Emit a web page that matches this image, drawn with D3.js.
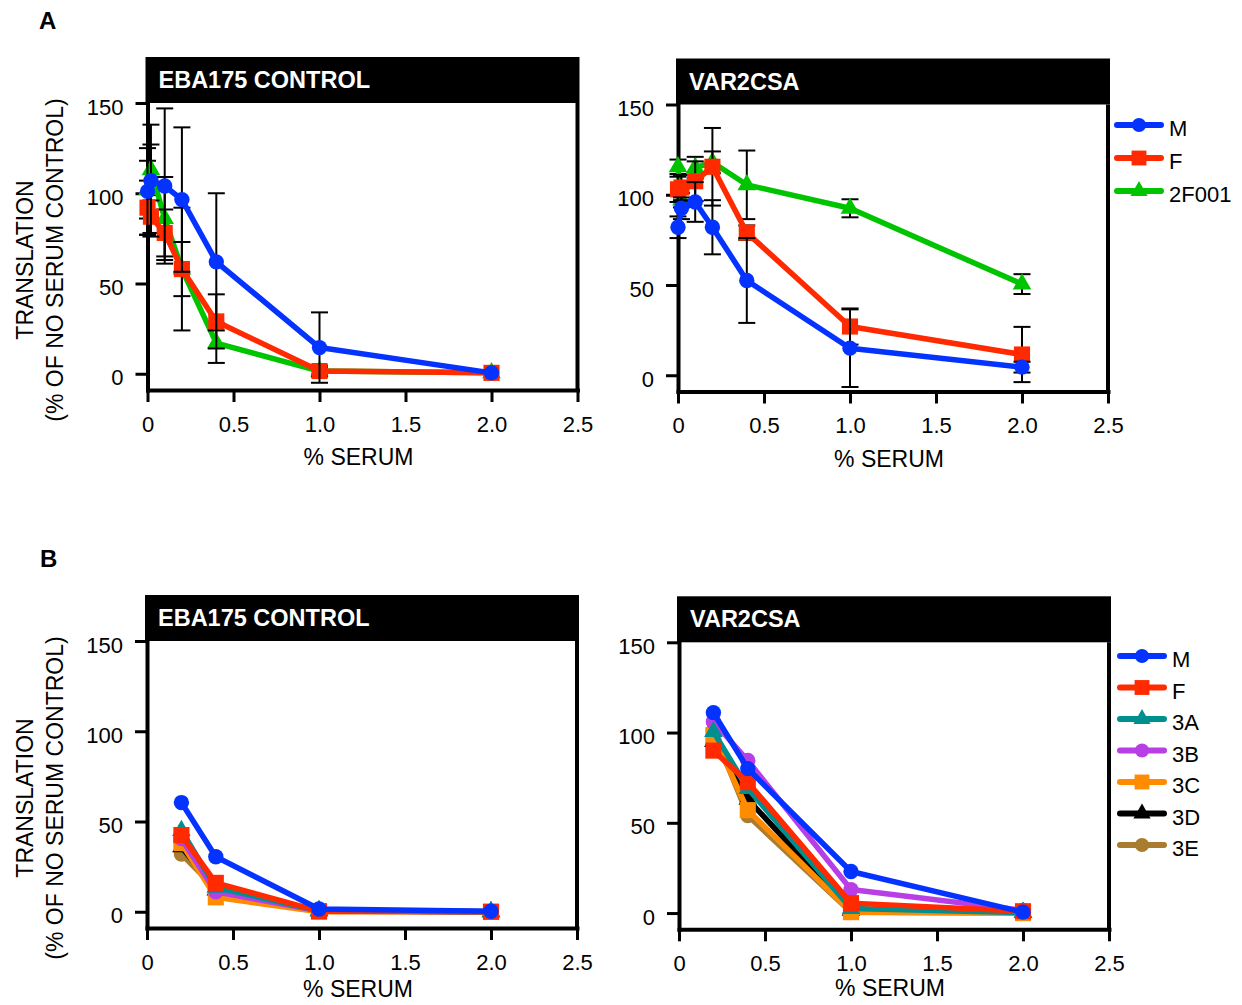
<!DOCTYPE html>
<html>
<head>
<meta charset="utf-8">
<script src="https://cdn.jsdelivr.net/npm/d3@7"></script>
<style>
  body { margin: 0; background: #fff; }
  svg { display: block; font-family: 'Liberation Sans', Arial, sans-serif; }
</style>
</head>
<body>
<svg id="chart" width="1242" height="1005"></svg>
<script>
// axis ticks
const xTickValues = [0, 0.5, 1.0, 1.5, 2.0, 2.5]
const yTickValues = [0, 50, 100, 150]

// panel A: % serum and translation (% of no serum control), mean and error
const serumA = [0, 0.02, 0.1, 0.2, 0.4, 1.0, 2.0]
const ebaM = [101, 107, 104, 96.5, 62, 14.5, 0.5]
const ebaMErr = [24, 31, 43, 40, 38, 19.5, 0]
const ebaF = [92, 87, 78, 58, 29, 1.5, 0.5]
const ebaFErr = [15, 9, 13, 15, 15, 3, 0]
const eba2F001 = [102, 113, 86, 58, 17, 1.5, 0.5]
const eba2F001Err = [16, 14, 23, 34, 11, 2, 0]

const varM = [82, 92.5, 96, 82, 52.5, 15, 4.5]
const varMErr = [6, 6, 11, 15, 23.5, 21.5, 3]
const varF = [103, 104, 107.5, 115.5, 79, 27, 11.5]
const varFErr = [7, 7, 11, 21.5, 4, 10, 15.3]
const var2F001 = [115.5, 97, 115, 118, 105.5, 92.5, 50.5]
const var2F001Err = [4, 4, 6, 6, 19, 5, 5.5]

// panel B
const serumB = [0.2, 0.4, 1.0, 2.0]
const ebaBM = [60.5, 30.5, 1.5, 0.3]
const ebaBF = [42.5, 16, 0.3, 0]
const ebaB3A = [45, 13.5, 0.5, 0]
const ebaB3B = [40.5, 11, 0.5, 0]
const ebaB3C = [38, 8, 0, 0]
const ebaB3D = [36, 12, 0.5, 0]
const ebaB3E = [32, 12.5, 0.3, 0]

const varBM = [111, 80, 23, 0.5]
const varBF = [90, 72.5, 5.5, 1]
const varB3A = [100.5, 69, 2.5, 0.3]
const varB3B = [106, 84.5, 13, 1.5]
const varB3C = [98.5, 57, 0.5, 0]
const varB3D = [95, 63, 1.5, 0.3]
const varB3E = [101, 54, 0.5, 0]

const seriesNamesA = ['M', 'F', '2F001']
const seriesNamesB = ['M', 'F', '3A', '3B', '3C', '3D', '3E']

const styles = {
  M: { color: '#0433ff', symbol: d3.symbolCircle, size: 185 },
  F: { color: '#ff2a00', symbol: d3.symbolSquare, size: 260 },
  '2F001': { color: '#00c400', symbol: d3.symbolTriangle, size: 150 },
  '3A': { color: '#008f8f', symbol: d3.symbolTriangle, size: 150 },
  '3B': { color: '#b83fe6', symbol: d3.symbolCircle, size: 185 },
  '3C': { color: '#ff8c00', symbol: d3.symbolSquare, size: 260 },
  '3D': { color: '#000000', symbol: d3.symbolTriangle, size: 150 },
  '3E': { color: '#a97c2f', symbol: d3.symbolCircle, size: 185 }
}

const toSeries = (name, xs, ys, errs) => ({
  name,
  points: xs.map((x, i) => ({ x, y: ys[i], e: errs ? errs[i] : 0 }))
})

const W = 430
const H = 287
const font = "'Liberation Sans', Arial, sans-serif"

const panels = [
  {
    title: 'EBA175 CONTROL', left: 147.5, top: 103, titleGap: 75,
    series: [
      toSeries('M', serumA, ebaM, ebaMErr),
      toSeries('F', serumA, ebaF, ebaFErr),
      toSeries('2F001', serumA, eba2F001, eba2F001Err)
    ]
  },
  {
    title: 'VAR2CSA', left: 678, top: 104.5, titleGap: 75,
    series: [
      toSeries('M', serumA, varM, varMErr),
      toSeries('F', serumA, varF, varFErr),
      toSeries('2F001', serumA, var2F001, var2F001Err)
    ],
    legend: { names: seriesNamesA, x: 1117, y: 125, step: 33 }
  },
  {
    title: 'EBA175 CONTROL', left: 147, top: 641, titleGap: 69,
    series: [
      toSeries('M', serumB, ebaBM),
      toSeries('F', serumB, ebaBF),
      toSeries('3A', serumB, ebaB3A),
      toSeries('3B', serumB, ebaB3B),
      toSeries('3C', serumB, ebaB3C),
      toSeries('3D', serumB, ebaB3D),
      toSeries('3E', serumB, ebaB3E)
    ]
  },
  {
    title: 'VAR2CSA', left: 679, top: 642.3, titleGap: 67,
    series: [
      toSeries('M', serumB, varBM),
      toSeries('F', serumB, varBF),
      toSeries('3A', serumB, varB3A),
      toSeries('3B', serumB, varB3B),
      toSeries('3C', serumB, varB3C),
      toSeries('3D', serumB, varB3D),
      toSeries('3E', serumB, varB3E)
    ],
    legend: { names: seriesNamesB, x: 1120, y: 656, step: 31.5 }
  }
]

const svg = d3.select('#chart')

svg.append('rect').attr('width', 1242).attr('height', 1005).attr('fill', '#fff')

// panel letters
svg.append('text').attr('x', 39).attr('y', 29).attr('font-size', 24).attr('font-weight', 'bold').text('A')
svg.append('text').attr('x', 40).attr('y', 567).attr('font-size', 24).attr('font-weight', 'bold').text('B')

// y axis titles (left column only)
;[panels[0], panels[2]].forEach(p => {
  const cy = p.top + 157
  svg.append('text')
    .attr('transform', `translate(33, ${cy}) rotate(-90)`)
    .attr('text-anchor', 'middle')
    .attr('font-size', 23)
    .text('TRANSLATION')
  svg.append('text')
    .attr('transform', `translate(63, ${cy}) rotate(-90)`)
    .attr('text-anchor', 'middle')
    .attr('font-size', 23)
    .text('(% OF NO SERUM CONTROL)')
})

function drawPanel (p) {
  const x = d3.scaleLinear().domain([0, 2.5]).range([0, W])
  const y = d3.scaleLinear().domain([-9, 150]).range([H, 0])
  const g = svg.append('g').attr('transform', `translate(${p.left}, ${p.top})`)

  // header bar
  g.append('rect')
    .attr('x', -2).attr('y', -46)
    .attr('width', W + 4).attr('height', 46)
    .attr('fill', '#000')
  g.append('text')
    .attr('x', 11).attr('y', -15)
    .attr('fill', '#fff')
    .attr('font-size', 23.5)
    .attr('font-weight', 'bold')
    .text(p.title)

  // right frame edge
  g.append('line')
    .attr('x1', W).attr('x2', W)
    .attr('y1', 0).attr('y2', H)
    .attr('stroke', '#000')
    .attr('stroke-width', 4)

  const yAxis = g.append('g')
    .call(d3.axisLeft(y)
      .tickValues(yTickValues)
      .tickSize(12)
      .tickSizeOuter(0)
      .tickPadding(12))
  const xAxis = g.append('g')
    .attr('transform', `translate(0, ${H})`)
    .call(d3.axisBottom(x)
      .tickValues(xTickValues)
      .tickSize(12)
      .tickSizeOuter(0)
      .tickPadding(14)
      .tickFormat(d => d === 0 ? '0' : d.toFixed(1)))

  ;[yAxis, xAxis].forEach(a => {
    a.attr('font-size', 22).attr('font-family', font)
    a.select('.domain').attr('stroke', '#000').attr('stroke-width', 4).attr('stroke-linecap', 'square')
    a.selectAll('.tick line').attr('stroke', '#000').attr('stroke-width', 3)
    a.selectAll('.tick text').attr('fill', '#000')
  })
  yAxis.selectAll('.tick text').attr('dy', '0.5em')

  g.append('text')
    .attr('x', W / 2 - 4)
    .attr('y', H + p.titleGap)
    .attr('text-anchor', 'middle')
    .attr('font-size', 23)
    .text('% SERUM')

  const line = d3.line()
    .x(d => x(d.x))
    .y(d => y(d.y))

  // last series at the bottom, M on top
  p.series.slice().reverse().forEach(s => {
    const st = styles[s.name]
    const sg = g.append('g')

    const bars = sg.selectAll('.err')
      .data(s.points.filter(d => d.e > 0))
      .enter()
      .append('g')
      .attr('class', 'err')
      .attr('stroke', '#000')
      .attr('stroke-width', 2)
    bars.append('line')
      .attr('x1', d => x(d.x)).attr('x2', d => x(d.x))
      .attr('y1', d => y(d.y + d.e)).attr('y2', d => y(d.y - d.e))
    bars.append('line')
      .attr('x1', d => x(d.x) - 8.5).attr('x2', d => x(d.x) + 8.5)
      .attr('y1', d => y(d.y + d.e)).attr('y2', d => y(d.y + d.e))
    bars.append('line')
      .attr('x1', d => x(d.x) - 8.5).attr('x2', d => x(d.x) + 8.5)
      .attr('y1', d => y(d.y - d.e)).attr('y2', d => y(d.y - d.e))

    sg.append('path')
      .attr('d', line(s.points))
      .attr('fill', 'none')
      .attr('stroke', st.color)
      .attr('stroke-width', 5.5)
      .attr('stroke-linejoin', 'round')
      .attr('stroke-linecap', 'round')

    sg.selectAll('.pt')
      .data(s.points)
      .enter()
      .append('path')
      .attr('class', 'pt')
      .attr('transform', d => `translate(${x(d.x)}, ${y(d.y)})`)
      .attr('d', d3.symbol().type(st.symbol).size(st.size))
      .attr('fill', st.color)
  })

  if (p.legend) {
    const lg = svg.append('g')
    p.legend.names.forEach((name, i) => {
      const st = styles[name]
      const ly = p.legend.y + i * p.legend.step
      lg.append('line')
        .attr('x1', p.legend.x).attr('x2', p.legend.x + 44)
        .attr('y1', ly).attr('y2', ly)
        .attr('stroke', st.color)
        .attr('stroke-width', 6)
        .attr('stroke-linecap', 'round')
      lg.append('path')
        .attr('transform', `translate(${p.legend.x + 22}, ${ly})`)
        .attr('d', d3.symbol().type(st.symbol).size(st.size * 0.85))
        .attr('fill', st.color)
      lg.append('text')
        .attr('x', p.legend.x + 52)
        .attr('y', ly + 11)
        .attr('font-size', 22)
        .text(name)
    })
  }
}

panels.forEach(drawPanel)
</script>
</body>
</html>
